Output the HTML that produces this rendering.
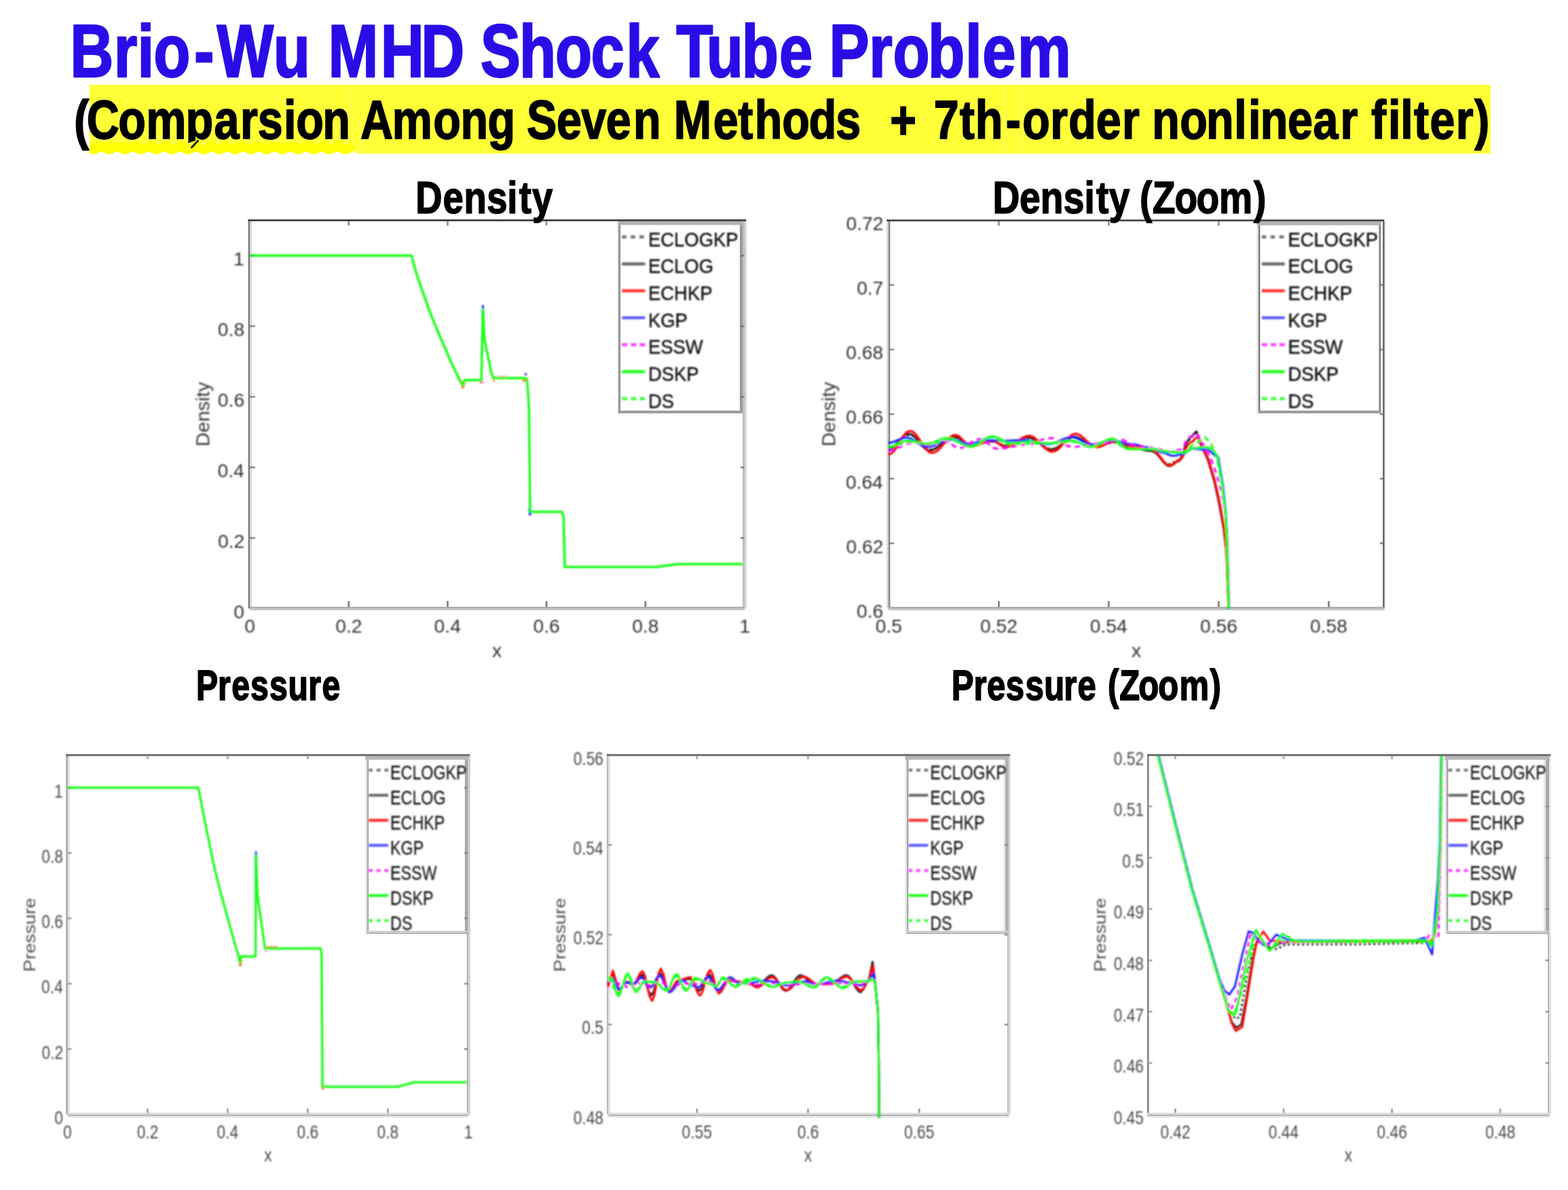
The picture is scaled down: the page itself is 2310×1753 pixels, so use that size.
<!DOCTYPE html>
<html lang="en"><head><meta charset="utf-8"><title>Brio-Wu MHD Shock Tube Problem</title>
<style>html,body{margin:0;padding:0;background:#fff;}body{width:2310px;height:1753px;overflow:hidden;}svg{display:block;}text{font-family:"Liberation Sans",Arial,Helvetica,sans-serif;white-space:pre;}</style>
</head><body>
<svg width="2310" height="1753" viewBox="0 0 2310 1753" role="img" aria-label="Brio-Wu MHD Shock Tube Problem: comparison among seven methods">
<defs>
<filter id="b1" x="-5%" y="-5%" width="110%" height="110%"><feGaussianBlur stdDeviation="1.0"/></filter>
<filter id="b2" x="-5%" y="-5%" width="110%" height="110%"><feGaussianBlur stdDeviation="1.1"/></filter>
<filter id="bf" x="-5%" y="-5%" width="110%" height="110%"><feGaussianBlur stdDeviation="0.45"/></filter>
<filter id="b0" x="-5%" y="-20%" width="110%" height="140%"><feGaussianBlur stdDeviation="0.6"/></filter>
</defs>
<rect width="2310" height="1753" fill="#fff"/>
<g filter="url(#b0)">
<text transform="translate(0,112.59) scale(0.8062,1)" x="128.1 208.0 251.3 280.5 354.8 396.3 499.5 562.9 599.8 695.7 769.3 844.2 878.0 949.0 1014.5 1079.8 1143.8 1210.6 1235.6 1291.0 1355.5 1423.9 1484.1 1515.2 1588.1 1631.6 1695.5 1763.9 1795.2 1859.2" y="0" font-size="109.93" font-weight="bold" fill="#2a10e6" stroke="#2a10e6" stroke-width="2.42" stroke-linejoin="round">Brio-Wu MHD Shock Tube Problem</text>
</g>
<rect x="131.8" y="124.8" width="2064.2" height="101.5" fill="#ffff38"/>
<rect x="131" y="221" width="392.5" height="8" fill="#fff"/>
<rect x="514.5" y="125" width="1" height="101" fill="#ffff70"/>
<rect x="532.5" y="125" width="1" height="101" fill="#ffff70"/>
<rect x="1479.1" y="125" width="1" height="101" fill="#ffff70"/>
<rect x="1507.2" y="125" width="1" height="101" fill="#ffff70"/>
<g filter="url(#b0)">
<text transform="translate(0,203.50) scale(0.8266,1)" x="131.8 154.5 210.8 260.3 330.8 381.8 428.2 459.4 505.8 527.9 575.0 620.1 642.4 699.0 772.3 820.8 869.3 914.7 938.8 992.1 1035.8 1080.0 1128.8 1174.6 1200.9 1271.3 1315.2 1345.1 1394.0 1441.7 1489.6 1532.8 1537.7 1586.2 1636.3 1664.4 1710.3 1738.2 1792.6 1822.2 1871.9 1904.6 1953.4 1999.7 2031.8 2053.2 2102.8 2149.8 2199.6 2224.7 2246.2 2295.1 2340.4 2388.6 2421.5 2443.8 2474.1 2496.2 2519.9 2548.3 2594.6 2627.8" y="0" font-size="80.30" font-weight="bold" fill="#000" stroke="#000" stroke-width="1.80" stroke-linejoin="round">(Comparsion Among Seven Methods  + 7th-order nonlinear filter)</text>
</g>
<clipPath id="sq"><rect x="131.8" y="200" width="391.2" height="32"/></clipPath>
<g clip-path="url(#sq)"><polyline points="126.0,215.0 137.6,219.6 149.2,215.0 160.8,219.6 172.4,215.0 184.0,219.6 195.6,215.0 207.2,219.6 218.8,215.0 230.4,219.6 242.0,215.0 253.6,219.6 265.2,215.0 276.8,219.6 288.4,215.0 300.0,219.6 311.6,215.0 323.2,219.6 334.8,215.0 346.4,219.6 358.0,215.0 369.6,219.6 381.2,215.0 392.8,219.6 404.4,215.0 416.0,219.6 427.6,215.0 439.2,219.6 450.8,215.0 462.4,219.6 474.0,215.0 485.6,219.6 497.2,215.0 508.8,219.6 520.4,215.0" fill="none" stroke="#ffff06" stroke-width="15.5" stroke-linejoin="round"/>
<polyline points="126.0,207.2 137.6,212.2 149.2,207.2 160.8,212.2 172.4,207.2 184.0,212.2 195.6,207.2 207.2,212.2 218.8,207.2 230.4,212.2 242.0,207.2 253.6,212.2 265.2,207.2 276.8,212.2 288.4,207.2 300.0,212.2 311.6,207.2 323.2,212.2 334.8,207.2 346.4,212.2 358.0,207.2 369.6,212.2 381.2,207.2 392.8,212.2 404.4,207.2 416.0,212.2 427.6,207.2 439.2,212.2 450.8,207.2 462.4,212.2 474.0,207.2 485.6,212.2 497.2,207.2 508.8,212.2 520.4,207.2" fill="none" stroke="#ffffb0" stroke-width="1.3" stroke-dasharray="9 14" opacity="0.9"/></g>
<path d="M282.5 217 L291.5 207.5" stroke="#2a2a2a" stroke-width="3.2" fill="none" stroke-linecap="round"/>
<g filter="url(#bf)">
<rect x="512.4" y="885.4" width="2.7" height="10.5" fill="#6a6a6a" opacity="0.85"/>
<rect x="512.4" y="325.9" width="2.7" height="6.4" fill="#6a6a6a" opacity="0.75"/>
<rect x="658.1" y="885.4" width="2.7" height="10.5" fill="#6a6a6a" opacity="0.85"/>
<rect x="658.1" y="325.9" width="2.7" height="6.4" fill="#6a6a6a" opacity="0.75"/>
<rect x="803.7" y="885.4" width="2.7" height="10.5" fill="#6a6a6a" opacity="0.85"/>
<rect x="803.7" y="325.9" width="2.7" height="6.4" fill="#6a6a6a" opacity="0.75"/>
<rect x="949.5" y="885.4" width="2.7" height="10.5" fill="#6a6a6a" opacity="0.85"/>
<rect x="949.5" y="325.9" width="2.7" height="6.4" fill="#6a6a6a" opacity="0.75"/>
<rect x="365.6" y="323.2" width="2.4" height="573.2" fill="#7a7a7a"/>
<rect x="368.0" y="323.2" width="3.0" height="573.2" fill="#d8d8d8"/>
<rect x="368.0" y="791.2" width="8.0" height="2.7" fill="#6a6a6a" opacity="0.7"/>
<rect x="368.0" y="687.2" width="8.0" height="2.7" fill="#6a6a6a" opacity="0.7"/>
<rect x="368.0" y="583.2" width="8.0" height="2.7" fill="#6a6a6a" opacity="0.7"/>
<rect x="368.0" y="479.2" width="8.0" height="2.7" fill="#6a6a6a" opacity="0.7"/>
<rect x="368.0" y="375.2" width="8.0" height="2.7" fill="#6a6a6a" opacity="0.7"/>
<rect x="1094.0" y="325.9" width="3.0" height="570.5" fill="#c0c0c0"/>
<rect x="1097.0" y="325.9" width="2.8" height="570.5" fill="#d4d4d4"/>
<rect x="368.0" y="893.9" width="729.0" height="2.5" fill="#aaaaaa"/>
<rect x="368.0" y="896.4" width="729.0" height="2.5" fill="#c0c0c0"/>
</g>
<clipPath id="clip1"><rect x="365.6" y="324.9" width="728.4" height="574.0"/></clipPath>
<g filter="url(#b1)"><g clip-path="url(#clip1)" fill="none" stroke-linejoin="round" stroke-linecap="butt">
<polyline points="711.1,480.6 711.4,450.9 712.0,465.0" stroke="#1c1cff" stroke-width="3.2"/>
<polyline points="680.2,560.6 681.8,570.5 683.8,563.8" stroke="#ff6030" stroke-width="3.6"/>
<polyline points="707.1,563.0 709.7,563.0" stroke="#ff3030" stroke-width="3.4"/>
<polyline points="710.4,563.0 712.4,563.0" stroke="#ff50ff" stroke-width="3.0"/>
<polyline points="726.1,560.4 729.0,560.4" stroke="#ff8040" stroke-width="3.0"/>
<polyline points="732.2,554.7 746.8,554.7" stroke="#ff9090" stroke-width="2.0"/>
<polyline points="770.1,560.4 775.2,560.4" stroke="#ff3030" stroke-width="3.0"/>
<polyline points="773.8,552.8 775.2,549.7" stroke="#8030d0" stroke-width="3.6"/>
<polyline points="780.1,748.3 780.9,759.2" stroke="#1c1cff" stroke-width="3.6"/>
<polyline points="825.5,752.0 828.4,754.0" stroke="#ff40ff" stroke-width="2.6"/>
<polyline points="368.0,376.6 606.4,376.6 612.3,399.2 619.8,421.6 634.7,463.3 649.6,499.0 664.5,533.2 677.9,561.6 681.6,567.4 684.5,560.1 709.1,560.1 711.4,455.6 713.6,499.0 718.1,521.4 724.0,549.7 727.0,557.1 774.7,557.1 776.2,558.6 777.6,573.4 779.1,600.0 781.1,754.0 828.0,754.0 830.2,761.3 832.1,835.2 966.5,835.2 998.9,831.0 1096.5,831.0" stroke="#12ff12" stroke-width="3.5"/>
</g></g>
<g filter="url(#bf)">
<rect x="910.6" y="325.9" width="189.7" height="283.0" fill="#fff"/>
<rect x="910.6" y="327.5" width="3.7" height="281.4" fill="#9c9c9c"/>
<rect x="1089.9" y="325.9" width="4.1" height="283.0" fill="#9a9a9a"/>
<rect x="1094.0" y="325.9" width="3.0" height="283.0" fill="#c0c0c0"/>
<rect x="1097.0" y="325.9" width="2.8" height="283.0" fill="#d4d4d4"/>
<rect x="910.6" y="604.8" width="183.4" height="4.1" fill="#9c9c9c"/>
<rect x="910.6" y="326.0" width="183.4" height="5.4" fill="#b2b2b2"/>
<rect x="365.6" y="323.2" width="733.7" height="2.7" fill="#3a3a3a"/>
<rect x="1091.0" y="791.2" width="5.5" height="2.7" fill="#707070" opacity="0.8"/>
<rect x="1091.0" y="687.2" width="5.5" height="2.7" fill="#707070" opacity="0.8"/>
<rect x="1091.0" y="583.2" width="5.5" height="2.7" fill="#707070" opacity="0.8"/>
<rect x="1091.0" y="479.2" width="5.5" height="2.7" fill="#707070" opacity="0.8"/>
<rect x="1091.0" y="375.2" width="5.5" height="2.7" fill="#707070" opacity="0.8"/>
</g>
<g filter="url(#b1)">
<line x1="916.3" y1="349.0" x2="950.3" y2="349.0" stroke="#6e6e6e" stroke-width="4.4" stroke-dasharray="6.5 6.4"/>
<text transform="translate(955.04,362.60) scale(0.9420,1)" font-size="29.09" fill="#111" stroke="#111" stroke-width="0.45">ECLOGKP</text>
<line x1="916.3" y1="388.7" x2="950.3" y2="388.7" stroke="#686868" stroke-width="4.4"/>
<text transform="translate(955.04,402.30) scale(0.9420,1)" font-size="29.09" fill="#111" stroke="#111" stroke-width="0.45">ECLOG</text>
<line x1="916.3" y1="428.4" x2="950.3" y2="428.4" stroke="#ff2a2a" stroke-width="4.4"/>
<text transform="translate(955.04,442.00) scale(0.9420,1)" font-size="29.09" fill="#111" stroke="#111" stroke-width="0.45">ECHKP</text>
<line x1="916.3" y1="468.1" x2="950.3" y2="468.1" stroke="#5a5aff" stroke-width="4.4"/>
<text transform="translate(955.04,481.70) scale(0.9420,1)" font-size="29.09" fill="#111" stroke="#111" stroke-width="0.45">KGP</text>
<line x1="916.3" y1="507.8" x2="950.3" y2="507.8" stroke="#ff40ff" stroke-width="4.4" stroke-dasharray="8 5"/>
<text transform="translate(955.04,521.40) scale(0.9420,1)" font-size="29.09" fill="#111" stroke="#111" stroke-width="0.45">ESSW</text>
<line x1="916.3" y1="547.5" x2="950.3" y2="547.5" stroke="#20ff20" stroke-width="4.4"/>
<text transform="translate(955.04,561.10) scale(0.9420,1)" font-size="29.09" fill="#111" stroke="#111" stroke-width="0.45">DSKP</text>
<line x1="916.3" y1="587.2" x2="950.3" y2="587.2" stroke="#40ff40" stroke-width="4.4" stroke-dasharray="8 5"/>
<text transform="translate(955.04,600.80) scale(0.9420,1)" font-size="29.09" fill="#111" stroke="#111" stroke-width="0.45">DS</text>
<text transform="translate(360.13,932.30) scale(0.9900,1)" font-size="28.51" fill="#333">0</text>
<text transform="translate(494.23,932.30) scale(0.9900,1)" font-size="28.51" fill="#333">0.2</text>
<text transform="translate(639.61,932.30) scale(0.9900,1)" font-size="28.51" fill="#333">0.4</text>
<text transform="translate(785.52,932.30) scale(0.9900,1)" font-size="28.51" fill="#333">0.6</text>
<text transform="translate(931.22,932.30) scale(0.9900,1)" font-size="28.51" fill="#333">0.8</text>
<text transform="translate(1089.58,932.30) scale(0.9900,1)" font-size="28.51" fill="#333">1</text>
<text transform="translate(344.29,910.80) scale(0.9900,1)" font-size="28.51" fill="#333">0</text>
<text transform="translate(321.08,806.82) scale(0.9900,1)" font-size="28.51" fill="#333">0.2</text>
<text transform="translate(320.44,702.84) scale(0.9900,1)" font-size="28.51" fill="#333">0.4</text>
<text transform="translate(320.87,598.85) scale(0.9900,1)" font-size="28.51" fill="#333">0.6</text>
<text transform="translate(320.87,494.87) scale(0.9900,1)" font-size="28.51" fill="#333">0.8</text>
<text transform="translate(344.08,390.89) scale(0.9900,1)" font-size="28.51" fill="#333">1</text>
<text transform="translate(724.94,968.00) scale(0.9900,1)" font-size="28.51" fill="#333">x</text>
<text transform="translate(308.30,657.68) rotate(-90) scale(1.0000,1.0000)" font-size="28.51" fill="#333">Density</text>
</g>
<g filter="url(#bf)">
<rect x="1470.1" y="885.5" width="2.7" height="10.5" fill="#6a6a6a" opacity="0.85"/>
<rect x="1470.1" y="326.1" width="2.7" height="6.4" fill="#6a6a6a" opacity="0.75"/>
<rect x="1632.1" y="885.5" width="2.7" height="10.5" fill="#6a6a6a" opacity="0.85"/>
<rect x="1632.1" y="326.1" width="2.7" height="6.4" fill="#6a6a6a" opacity="0.75"/>
<rect x="1794.1" y="885.5" width="2.7" height="10.5" fill="#6a6a6a" opacity="0.85"/>
<rect x="1794.1" y="326.1" width="2.7" height="6.4" fill="#6a6a6a" opacity="0.75"/>
<rect x="1956.1" y="885.5" width="2.7" height="10.5" fill="#6a6a6a" opacity="0.85"/>
<rect x="1956.1" y="326.1" width="2.7" height="6.4" fill="#6a6a6a" opacity="0.75"/>
<rect x="1306.0" y="323.4" width="2.7" height="572.7" fill="#dddddd"/>
<rect x="1308.7" y="323.4" width="2.7" height="572.7" fill="#8a8a8a"/>
<rect x="1309.4" y="799.0" width="8.0" height="2.7" fill="#6a6a6a" opacity="0.7"/>
<rect x="1309.4" y="703.8" width="8.0" height="2.7" fill="#6a6a6a" opacity="0.7"/>
<rect x="1309.4" y="608.7" width="8.0" height="2.7" fill="#6a6a6a" opacity="0.7"/>
<rect x="1309.4" y="513.5" width="8.0" height="2.7" fill="#6a6a6a" opacity="0.7"/>
<rect x="1309.4" y="418.4" width="8.0" height="2.7" fill="#6a6a6a" opacity="0.7"/>
<rect x="2037.1" y="326.1" width="2.7" height="570.0" fill="#666666"/>
<rect x="1308.7" y="894.0" width="731.1" height="2.1" fill="#aaaaaa"/>
<rect x="1308.7" y="896.1" width="731.1" height="2.7" fill="#bebebe"/>
</g>
<clipPath id="clip2"><rect x="1306" y="325.1" width="731.0999999999999" height="573.6999999999999"/></clipPath>
<g filter="url(#b1)"><g clip-path="url(#clip2)" fill="none" stroke-linejoin="round" stroke-linecap="butt">
<polyline points="1309.0,662.4 1313.4,661.3 1317.8,658.3 1322.2,654.0 1326.6,649.1 1330.9,644.8 1335.3,641.8 1339.7,640.7 1344.1,641.8 1348.5,644.8 1352.9,649.1 1357.3,654.0 1361.7,658.3 1366.1,661.3 1370.5,662.4 1374.5,661.8 1378.5,660.3 1382.5,657.9 1386.5,654.9 1390.6,651.8 1394.6,648.8 1398.6,646.4 1402.6,644.8 1406.6,644.3 1410.9,645.0 1415.1,647.0 1419.3,649.7 1423.5,652.4 1427.7,654.4 1432.0,655.2 1436.3,654.9 1440.7,654.3 1445.1,653.4 1449.5,652.4 1453.9,651.5 1458.3,650.9 1462.7,650.6 1467.7,651.5 1472.6,653.5 1477.6,655.6 1482.6,656.4 1486.7,656.0 1490.7,654.8 1494.8,653.0 1498.9,650.8 1502.9,648.7 1507.0,646.8 1511.1,645.6 1515.1,645.2 1519.4,645.8 1523.7,647.6 1528.0,650.2 1532.3,653.3 1536.6,656.5 1540.9,659.1 1545.2,660.9 1549.5,661.5 1553.8,660.8 1558.1,659.0 1562.4,656.2 1566.7,652.9 1571.0,649.6 1575.3,646.8 1579.6,645.0 1583.9,644.3 1588.2,644.9 1592.6,646.7 1597.0,649.2 1601.4,652.0 1605.8,654.6 1610.2,656.3 1614.6,657.0 1618.7,656.7 1622.9,655.9 1627.0,654.9 1631.1,653.6 1635.3,652.6 1639.4,651.8 1643.5,651.5 1648.0,652.4 1652.6,654.5 1657.1,656.6 1661.6,657.5 1666.0,657.7 1670.3,658.4 1674.7,659.3 1679.0,660.5 1683.4,661.6 1687.8,662.6 1692.1,663.2 1696.5,663.4 1700.6,664.8 1704.8,668.6 1709.0,673.7 1713.2,678.8 1717.3,682.6 1721.5,684.0 1726.3,682.6 1731.0,680.0 1735.8,678.6 1739.8,674.2 1743.8,663.4 1747.8,652.7 1751.9,648.2 1756.8,642.9 1761.7,637.5 1765.7,645.6 1769.7,653.6 1774.6,665.2 1779.6,676.8 1784.5,692.9 1789.4,709.0 1796.5,741.1 1803.7,780.5 1807.6,816.2 1810.5,896.6" stroke="#1a1a1a" stroke-width="3.1" stroke-dasharray="3 4"/>
<polyline points="1309.0,661.5 1313.2,660.4 1317.5,657.2 1321.8,652.7 1326.0,647.7 1330.3,643.1 1334.6,640.0 1338.8,638.9 1343.2,640.1 1347.6,643.5 1352.0,648.5 1356.4,654.0 1360.8,659.0 1365.2,662.4 1369.6,663.7 1373.6,663.0 1377.6,661.3 1381.6,658.6 1385.6,655.3 1389.7,651.8 1393.7,648.5 1397.7,645.8 1401.7,644.0 1405.7,643.4 1410.0,644.2 1414.2,646.6 1418.4,649.7 1422.6,652.9 1426.8,655.2 1431.0,656.1 1435.4,655.7 1439.8,654.9 1444.2,653.6 1448.6,652.2 1453.0,650.9 1457.4,650.0 1461.8,649.7 1466.8,650.8 1471.7,653.3 1476.7,655.9 1481.7,657.0 1485.8,656.5 1489.8,655.1 1493.9,653.1 1498.0,650.6 1502.0,648.2 1506.1,646.2 1510.2,644.8 1514.2,644.3 1518.5,645.0 1522.8,647.0 1527.1,649.9 1531.4,653.3 1535.7,656.8 1540.0,659.7 1544.3,661.7 1548.6,662.4 1552.9,661.7 1557.2,659.6 1561.5,656.5 1565.8,652.9 1570.1,649.3 1574.4,646.2 1578.7,644.1 1582.9,643.4 1587.3,644.1 1591.7,646.1 1596.1,648.9 1600.5,652.0 1604.9,654.8 1609.3,656.8 1613.7,657.5 1617.8,657.2 1622.0,656.2 1626.1,654.8 1630.2,653.3 1634.4,651.9 1638.5,651.0 1642.6,650.6 1647.1,651.7 1651.7,654.2 1656.2,656.8 1660.7,657.9 1665.2,658.1 1669.6,658.8 1674.1,659.9 1678.6,661.1 1683.1,662.3 1687.5,663.4 1692.0,664.1 1696.5,664.3 1700.9,665.8 1705.4,669.9 1709.9,675.5 1714.3,681.1 1718.8,685.2 1723.3,686.7 1728.0,684.6 1732.8,680.6 1737.6,678.6 1742.3,670.6 1747.1,654.5 1751.9,646.5 1757.2,641.1 1762.6,635.7 1769.7,657.2 1774.2,666.1 1778.7,675.0 1783.6,691.1 1788.5,707.2 1795.6,739.4 1802.8,778.7 1806.9,814.4 1809.9,896.6" stroke="#1a1a1a" stroke-width="3.1"/>
<polyline points="1309.0,669.6 1313.5,667.9 1318.0,663.1 1322.5,656.1 1327.1,648.3 1331.6,641.3 1336.1,636.4 1340.6,634.7 1344.7,636.0 1348.8,639.5 1352.8,644.8 1356.9,651.0 1361.0,657.2 1365.0,662.5 1369.1,666.0 1373.2,667.3 1377.5,666.3 1381.8,663.4 1386.1,659.1 1390.4,654.0 1394.7,648.9 1399.0,644.6 1403.2,641.7 1407.5,640.7 1412.2,642.3 1416.9,646.5 1421.6,651.7 1426.3,655.9 1431.0,657.5 1435.4,657.1 1439.8,655.9 1444.2,654.1 1448.6,652.2 1453.0,650.5 1457.4,649.3 1461.8,648.8 1466.8,650.3 1471.7,653.8 1476.7,657.3 1481.7,658.8 1486.0,658.1 1490.3,656.3 1494.6,653.6 1498.9,650.4 1503.2,647.1 1507.5,644.4 1511.7,642.6 1516.0,642.0 1520.3,642.8 1524.6,645.4 1528.9,649.2 1533.2,653.7 1537.5,658.2 1541.8,662.0 1546.1,664.6 1550.4,665.5 1554.7,664.4 1559.0,661.6 1563.3,657.3 1567.6,652.2 1571.9,647.1 1576.2,642.8 1580.5,639.9 1584.8,638.9 1589.1,639.9 1593.5,642.6 1597.9,646.6 1602.3,651.0 1606.7,655.0 1611.1,657.8 1615.5,658.8 1620.0,658.2 1624.5,656.5 1629.1,654.2 1633.6,652.0 1638.1,650.3 1642.6,649.7 1647.1,650.3 1651.7,651.8 1656.2,653.8 1660.7,655.8 1665.2,657.3 1669.7,657.9 1674.2,658.1 1678.7,658.8 1683.1,659.8 1687.6,660.7 1692.0,661.4 1696.5,661.6 1700.9,663.3 1705.4,667.7 1709.9,673.7 1714.3,679.7 1718.8,684.1 1723.3,685.8 1727.3,684.5 1731.3,681.3 1735.3,678.1 1739.4,676.8 1743.5,671.0 1747.7,659.4 1751.9,653.6 1756.6,650.9 1761.4,645.6 1766.2,642.9 1771.5,659.0 1776.0,667.9 1780.5,676.8 1784.9,692.0 1789.4,707.2 1796.5,739.4 1803.7,778.7 1807.3,814.4 1809.9,896.6" stroke="#ff0000" stroke-width="3.1"/>
<polyline points="1309.0,652.4 1313.4,651.9 1317.7,650.5 1322.1,648.6 1326.5,646.7 1330.8,645.4 1335.2,644.8 1339.6,645.5 1344.0,647.4 1348.4,650.0 1352.8,653.0 1357.2,655.7 1361.6,657.6 1365.9,658.2 1370.0,657.9 1374.0,657.0 1378.0,655.5 1382.0,653.7 1386.0,651.9 1390.1,650.1 1394.1,648.6 1398.1,647.7 1402.1,647.4 1406.3,647.8 1410.6,649.0 1414.8,650.6 1419.0,652.3 1423.2,653.5 1427.4,653.9 1431.7,653.5 1435.9,652.5 1440.1,651.2 1444.3,649.8 1448.5,648.8 1452.7,648.5 1456.8,648.5 1460.9,648.6 1465.0,648.7 1469.0,648.8 1473.1,649.0 1477.2,649.1 1481.2,649.2 1485.3,649.2 1489.6,649.1 1494.0,648.9 1498.3,648.7 1502.7,648.5 1507.0,648.5 1511.0,648.6 1515.0,649.1 1519.1,649.9 1523.1,650.9 1527.1,651.9 1531.1,652.8 1535.1,653.6 1539.1,654.1 1543.2,654.2 1547.2,653.9 1551.2,653.1 1555.2,651.8 1559.2,650.1 1563.3,648.4 1567.3,646.8 1571.3,645.5 1575.3,644.6 1579.3,644.3 1583.5,644.8 1587.6,646.2 1591.7,648.3 1595.9,650.6 1600.0,652.7 1604.1,654.1 1608.3,654.6 1612.7,654.3 1617.0,653.5 1621.4,652.4 1625.8,651.1 1630.2,649.9 1634.6,649.1 1639.0,648.8 1643.5,649.2 1648.0,650.2 1652.6,651.5 1657.1,652.9 1661.6,653.9 1666.1,654.2 1670.5,654.5 1674.8,655.3 1679.1,656.4 1683.5,657.7 1687.8,658.8 1692.1,659.6 1696.5,659.9 1701.2,661.4 1706.0,664.5 1710.8,666.1 1715.2,666.9 1719.7,668.8 1724.2,670.7 1728.6,671.5 1733.4,670.8 1738.2,669.5 1742.9,668.8 1747.1,666.8 1751.3,662.8 1755.4,660.7 1760.1,660.9 1764.7,661.4 1769.4,661.9 1774.0,662.4 1778.7,662.5 1782.7,664.1 1786.7,667.9 1790.7,671.7 1794.7,673.3 1801.9,716.1 1805.5,751.9 1808.1,796.5 1810.8,896.6" stroke="#1c1cff" stroke-width="3.1"/>
<polyline points="1309.0,663.7 1313.4,663.2 1317.8,662.0 1322.2,660.2 1326.6,658.0 1331.0,655.9 1335.4,654.1 1339.8,652.9 1344.2,652.4 1348.8,652.7 1353.3,653.3 1357.8,654.2 1362.3,655.2 1366.9,655.8 1371.4,656.1 1376.3,655.1 1381.3,652.6 1386.3,650.2 1391.3,649.2 1395.6,650.2 1399.9,652.9 1404.3,656.3 1408.6,659.0 1413.0,660.0 1417.4,659.4 1421.7,657.5 1426.1,654.8 1430.5,651.9 1434.9,649.2 1439.3,647.3 1443.7,646.7 1447.9,647.6 1452.1,650.3 1456.4,653.9 1460.6,657.5 1464.8,660.2 1469.0,661.1 1473.3,661.0 1477.6,660.6 1481.8,659.9 1486.1,659.1 1490.4,658.2 1494.7,657.2 1498.9,656.3 1503.2,655.4 1507.5,654.8 1511.8,654.4 1516.0,654.2 1520.4,653.8 1524.8,652.5 1529.2,650.7 1533.6,648.7 1538.0,646.9 1542.4,645.7 1546.8,645.2 1550.8,645.7 1554.9,647.1 1559.0,649.2 1563.1,651.7 1567.1,654.2 1571.2,656.3 1575.3,657.7 1579.3,658.2 1583.3,658.1 1587.4,657.8 1591.4,657.2 1595.4,656.6 1599.4,655.9 1603.4,655.2 1607.5,654.7 1611.5,654.4 1615.5,654.2 1619.5,654.0 1623.5,653.4 1627.6,652.5 1631.6,651.4 1635.6,650.2 1639.6,649.1 1643.6,648.2 1647.6,647.6 1651.7,647.4 1656.2,648.6 1660.7,651.7 1665.2,654.8 1669.7,656.1 1674.2,656.3 1678.7,657.0 1683.1,658.0 1687.6,658.9 1692.0,659.6 1696.5,659.9 1700.6,660.1 1704.6,660.9 1708.7,661.9 1712.8,663.1 1716.9,664.2 1721.0,664.9 1725.1,665.2 1729.8,664.5 1734.6,663.2 1739.4,662.5 1743.5,658.1 1747.7,649.1 1751.9,644.7 1757.2,641.5 1762.6,638.4 1767.1,646.0 1771.5,653.6 1776.9,662.5 1782.2,671.5 1787.6,685.8 1793.0,700.1 1800.1,725.1 1805.5,760.8 1808.7,805.5 1811.2,896.6" stroke="#ff00ff" stroke-width="3.1" stroke-dasharray="8 6"/>
<polyline points="1309.0,658.8 1313.4,658.1 1317.7,656.4 1322.1,654.0 1326.5,651.6 1330.8,649.8 1335.2,649.2 1339.6,649.4 1344.0,650.1 1348.4,651.0 1352.8,652.1 1357.2,653.0 1361.6,653.7 1365.9,653.9 1370.1,653.5 1374.2,652.3 1378.3,650.5 1382.5,648.6 1386.6,646.8 1390.7,645.6 1394.9,645.2 1398.9,645.6 1402.9,646.7 1406.9,648.5 1411.0,650.6 1415.0,652.8 1419.0,655.0 1423.0,656.7 1427.0,657.8 1431.0,658.2 1435.4,657.5 1439.8,655.3 1444.2,652.3 1448.6,648.8 1453.0,645.8 1457.4,643.6 1461.8,642.9 1466.3,643.5 1470.8,645.3 1475.4,647.8 1479.9,650.3 1484.4,652.1 1488.9,652.8 1493.0,652.7 1497.2,652.4 1501.3,652.0 1505.4,651.5 1509.6,651.0 1513.7,650.7 1517.8,650.6 1522.1,650.8 1526.3,651.2 1530.5,651.7 1534.7,652.3 1538.9,652.7 1543.2,652.8 1547.2,652.7 1551.2,652.4 1555.2,651.9 1559.2,651.3 1563.3,650.7 1567.3,650.1 1571.3,649.6 1575.3,649.3 1579.3,649.2 1583.9,649.8 1588.4,651.4 1592.9,653.7 1597.4,656.0 1601.9,657.6 1606.5,658.2 1610.5,657.8 1614.6,656.5 1618.7,654.5 1622.7,652.2 1626.8,649.9 1630.9,647.9 1634.9,646.6 1639.0,646.1 1643.7,647.6 1648.4,651.5 1653.1,656.4 1657.8,660.3 1662.5,661.8 1666.8,661.8 1671.0,661.8 1675.3,661.8 1679.5,661.7 1683.7,661.7 1688.0,661.7 1692.2,661.6 1696.5,661.6 1700.6,661.9 1704.6,662.5 1708.7,663.4 1712.8,664.4 1716.9,665.3 1721.0,665.9 1725.1,666.1 1729.5,666.2 1734.0,666.6 1738.5,666.9 1742.9,667.0 1747.4,666.0 1751.9,663.4 1756.3,660.9 1760.8,659.9 1765.3,659.7 1769.7,659.4 1774.2,659.1 1778.7,659.0 1785.8,661.6 1793.0,671.5 1797.0,693.8 1801.0,716.1 1805.1,751.9 1807.8,796.5 1810.5,896.6" stroke="#12ff12" stroke-width="3.1"/>
<polyline points="1309.0,657.9 1313.4,657.6 1317.8,656.8 1322.2,655.6 1326.6,654.2 1331.0,652.9 1335.4,651.7 1339.8,650.9 1344.2,650.6 1348.8,650.9 1353.3,651.5 1357.8,652.4 1362.3,653.3 1366.9,654.0 1371.4,654.2 1375.9,653.8 1380.4,652.4 1384.9,650.6 1389.5,648.8 1394.0,647.5 1398.5,647.0 1402.6,647.5 1406.8,648.9 1410.9,650.9 1415.0,653.1 1419.2,655.1 1423.3,656.5 1427.4,657.0 1431.5,656.5 1435.6,655.1 1439.6,653.1 1443.7,650.6 1447.8,648.2 1451.8,646.2 1455.9,644.8 1460.0,644.3 1464.1,644.8 1468.2,646.2 1472.4,648.2 1476.5,650.4 1480.6,652.4 1484.8,653.8 1488.9,654.2 1493.1,654.2 1497.3,654.2 1501.4,654.1 1505.6,654.1 1509.8,654.0 1514.0,653.9 1518.1,653.7 1522.3,653.6 1526.5,653.5 1530.6,653.5 1534.8,653.4 1539.0,653.4 1543.2,653.3 1547.2,653.3 1551.2,653.0 1555.2,652.7 1559.2,652.2 1563.3,651.8 1567.3,651.3 1571.3,651.0 1575.3,650.7 1579.3,650.6 1583.5,651.0 1587.6,651.9 1591.7,653.3 1595.9,654.8 1600.0,656.2 1604.1,657.2 1608.3,657.5 1612.4,657.0 1616.5,655.6 1620.7,653.6 1624.8,651.3 1628.9,649.3 1633.1,647.9 1637.2,647.4 1641.5,648.6 1645.9,651.9 1650.2,656.0 1654.6,659.3 1658.9,660.6 1663.1,660.6 1667.2,660.7 1671.4,660.8 1675.6,661.0 1679.8,661.2 1684.0,661.4 1688.1,661.5 1692.3,661.6 1696.5,661.6 1700.6,661.8 1704.6,662.3 1708.7,663.0 1712.8,663.8 1716.9,664.5 1721.0,665.0 1725.1,665.2 1729.5,665.3 1734.0,665.7 1738.5,666.0 1742.9,666.1 1747.4,664.3 1751.9,659.9 1756.3,655.4 1760.8,653.6 1765.6,651.1 1770.3,646.2 1775.1,643.8 1779.6,648.7 1784.0,653.6 1788.0,662.5 1792.1,671.5 1796.1,692.9 1800.1,714.3 1804.6,751.9 1807.3,796.5 1810.1,896.6" stroke="#12ff12" stroke-width="3.1" stroke-dasharray="8 6"/>
</g></g>
<g filter="url(#bf)">
<rect x="1851.4" y="326.1" width="188.9" height="282.8" fill="#fff"/>
<rect x="1851.4" y="327.5" width="2.5" height="281.4" fill="#e4e4e4"/>
<rect x="1853.9" y="327.5" width="2.5" height="281.4" fill="#7a7a7a"/>
<rect x="2031.4" y="326.1" width="3.0" height="282.8" fill="#888888"/>
<rect x="2037.1" y="326.1" width="2.7" height="282.8" fill="#666666"/>
<rect x="1853.9" y="604.8" width="180.5" height="4.1" fill="#9c9c9c"/>
<rect x="1851.4" y="326.2" width="183.0" height="5.6" fill="#b4b4b4"/>
<rect x="1306.0" y="323.4" width="733.3" height="2.7" fill="#444444"/>
<rect x="2032.9" y="799.0" width="5.5" height="2.7" fill="#707070" opacity="0.8"/>
<rect x="2032.9" y="703.8" width="5.5" height="2.7" fill="#707070" opacity="0.8"/>
<rect x="2032.9" y="608.7" width="5.5" height="2.7" fill="#707070" opacity="0.8"/>
<rect x="2032.9" y="513.5" width="5.5" height="2.7" fill="#707070" opacity="0.8"/>
<rect x="2032.9" y="418.4" width="5.5" height="2.7" fill="#707070" opacity="0.8"/>
</g>
<g filter="url(#b1)">
<line x1="1858.9" y1="349.0" x2="1892.7" y2="349.0" stroke="#6e6e6e" stroke-width="4.4" stroke-dasharray="6.5 6.4"/>
<text transform="translate(1897.54,362.60) scale(0.9420,1)" font-size="29.09" fill="#111" stroke="#111" stroke-width="0.45">ECLOGKP</text>
<line x1="1858.9" y1="388.7" x2="1892.7" y2="388.7" stroke="#686868" stroke-width="4.4"/>
<text transform="translate(1897.54,402.30) scale(0.9420,1)" font-size="29.09" fill="#111" stroke="#111" stroke-width="0.45">ECLOG</text>
<line x1="1858.9" y1="428.4" x2="1892.7" y2="428.4" stroke="#ff2a2a" stroke-width="4.4"/>
<text transform="translate(1897.54,442.00) scale(0.9420,1)" font-size="29.09" fill="#111" stroke="#111" stroke-width="0.45">ECHKP</text>
<line x1="1858.9" y1="468.1" x2="1892.7" y2="468.1" stroke="#5a5aff" stroke-width="4.4"/>
<text transform="translate(1897.54,481.70) scale(0.9420,1)" font-size="29.09" fill="#111" stroke="#111" stroke-width="0.45">KGP</text>
<line x1="1858.9" y1="507.8" x2="1892.7" y2="507.8" stroke="#ff40ff" stroke-width="4.4" stroke-dasharray="8 5"/>
<text transform="translate(1897.54,521.40) scale(0.9420,1)" font-size="29.09" fill="#111" stroke="#111" stroke-width="0.45">ESSW</text>
<line x1="1858.9" y1="547.5" x2="1892.7" y2="547.5" stroke="#20ff20" stroke-width="4.4"/>
<text transform="translate(1897.54,561.10) scale(0.9420,1)" font-size="29.09" fill="#111" stroke="#111" stroke-width="0.45">DSKP</text>
<line x1="1858.9" y1="587.2" x2="1892.7" y2="587.2" stroke="#40ff40" stroke-width="4.4" stroke-dasharray="8 5"/>
<text transform="translate(1897.54,600.80) scale(0.9420,1)" font-size="29.09" fill="#111" stroke="#111" stroke-width="0.45">DS</text>
<text transform="translate(1289.78,932.30) scale(0.9900,1)" font-size="28.51" fill="#333">0.5</text>
<text transform="translate(1444.09,932.30) scale(0.9900,1)" font-size="28.51" fill="#333">0.52</text>
<text transform="translate(1605.78,932.30) scale(0.9900,1)" font-size="28.51" fill="#333">0.54</text>
<text transform="translate(1767.99,932.30) scale(0.9900,1)" font-size="28.51" fill="#333">0.56</text>
<text transform="translate(1929.99,932.30) scale(0.9900,1)" font-size="28.51" fill="#333">0.58</text>
<text transform="translate(1261.97,909.80) scale(0.9900,1)" font-size="28.51" fill="#333">0.6</text>
<text transform="translate(1246.52,814.65) scale(0.9900,1)" font-size="28.51" fill="#333">0.62</text>
<text transform="translate(1245.88,719.50) scale(0.9900,1)" font-size="28.51" fill="#333">0.64</text>
<text transform="translate(1246.30,624.35) scale(0.9900,1)" font-size="28.51" fill="#333">0.66</text>
<text transform="translate(1246.30,529.20) scale(0.9900,1)" font-size="28.51" fill="#333">0.68</text>
<text transform="translate(1262.18,434.05) scale(0.9900,1)" font-size="28.51" fill="#333">0.7</text>
<text transform="translate(1246.52,338.90) scale(0.9900,1)" font-size="28.51" fill="#333">0.72</text>
<text transform="translate(1666.94,968.00) scale(0.9900,1)" font-size="28.51" fill="#333">x</text>
<text transform="translate(1230.30,657.68) rotate(-90) scale(1.0000,1.0000)" font-size="28.51" fill="#333">Density</text>
</g>
<g filter="url(#bf)">
<rect x="216.1" y="1633.2" width="2.7" height="8.0" fill="#8c8c8c" opacity="0.85"/>
<rect x="216.1" y="1113.8" width="2.7" height="4.5" fill="#8c8c8c" opacity="0.75"/>
<rect x="334.0" y="1633.2" width="2.7" height="8.0" fill="#8c8c8c" opacity="0.85"/>
<rect x="334.0" y="1113.8" width="2.7" height="4.5" fill="#8c8c8c" opacity="0.75"/>
<rect x="452.0" y="1633.2" width="2.7" height="8.0" fill="#8c8c8c" opacity="0.85"/>
<rect x="452.0" y="1113.8" width="2.7" height="4.5" fill="#8c8c8c" opacity="0.75"/>
<rect x="570.0" y="1633.2" width="2.7" height="8.0" fill="#8c8c8c" opacity="0.85"/>
<rect x="570.0" y="1113.8" width="2.7" height="4.5" fill="#8c8c8c" opacity="0.75"/>
<rect x="97.2" y="1110.8" width="2.7" height="531.0" fill="#aaaaaa"/>
<rect x="99.9" y="1110.8" width="3.0" height="531.0" fill="#e4e4e4"/>
<rect x="99.4" y="1544.0" width="6.0" height="2.7" fill="#8c8c8c" opacity="0.7"/>
<rect x="99.4" y="1447.8" width="6.0" height="2.7" fill="#8c8c8c" opacity="0.7"/>
<rect x="99.4" y="1351.5" width="6.0" height="2.7" fill="#8c8c8c" opacity="0.7"/>
<rect x="99.4" y="1255.3" width="6.0" height="2.7" fill="#8c8c8c" opacity="0.7"/>
<rect x="99.4" y="1159.1" width="6.0" height="2.7" fill="#8c8c8c" opacity="0.7"/>
<rect x="687.6" y="1113.8" width="2.4" height="528.0" fill="#b8b8b8"/>
<rect x="690.0" y="1113.8" width="2.9" height="528.0" fill="#d4d4d4"/>
<rect x="99.9" y="1639.2" width="590.1" height="2.6" fill="#dddddd"/>
<rect x="99.9" y="1641.8" width="590.1" height="2.6" fill="#b6b6b6"/>
<rect x="99.9" y="1644.4" width="590.1" height="2.2" fill="#e8e8e8"/>
</g>
<clipPath id="clip3"><rect x="97.2" y="1112.8" width="590.4" height="533.8"/></clipPath>
<g filter="url(#b2)"><g clip-path="url(#clip3)" fill="none" stroke-linejoin="round" stroke-linecap="butt">
<polyline points="376.9,1304.8 377.1,1255.2 377.5,1266.3" stroke="#5050ff" stroke-width="3.2"/>
<polyline points="352.8,1413.5 354.0,1422.2 355.5,1413.5" stroke="#ff5030" stroke-width="3.2"/>
<polyline points="390.9,1395.0 409.1,1395.0" stroke="#ff6060" stroke-width="2.2"/>
<polyline points="390.0,1400.0 392.3,1400.0" stroke="#ff6060" stroke-width="2.6"/>
<polyline points="474.6,1598.3 476.1,1605.0" stroke="#ff3030" stroke-width="3.2"/>
<polyline points="99.4,1160.4 292.3,1160.4 298.6,1193.6 305.7,1229.3 314.6,1272.1 323.6,1309.6 332.5,1341.8 341.4,1373.9 352.1,1411.4 353.9,1418.6 355.2,1408.8 376.5,1408.8 377.1,1259.8 379.3,1318.6 384.3,1354.3 390.5,1397.2 472.5,1397.2 473.8,1405.8 475.2,1600.9 585.3,1600.9 610.0,1594.3 689.4,1594.3" stroke="#12ff12" stroke-width="3.3"/>
</g></g>
<g filter="url(#bf)">
<rect x="538.3" y="1113.8" width="155.1" height="262.0" fill="#fff"/>
<rect x="538.3" y="1114.0" width="2.4" height="261.8" fill="#e6e6e6"/>
<rect x="540.7" y="1114.0" width="2.5" height="261.8" fill="#aaaaaa"/>
<rect x="684.8" y="1113.8" width="4.9" height="262.0" fill="#a8a8a8"/>
<rect x="689.7" y="1113.8" width="3.2" height="262.0" fill="#d0d0d0"/>
<rect x="540.7" y="1371.2" width="149.0" height="2.3" fill="#d0d0d0"/>
<rect x="540.7" y="1373.5" width="149.0" height="2.3" fill="#b4b4b4"/>
<rect x="538.3" y="1113.8" width="151.4" height="5.4" fill="#b6b6b6"/>
<rect x="97.2" y="1110.8" width="595.2" height="3.0" fill="#6e6e6e"/>
<rect x="683.9" y="1544.0" width="5.5" height="2.7" fill="#8a8a8a" opacity="0.8"/>
<rect x="683.9" y="1447.8" width="5.5" height="2.7" fill="#8a8a8a" opacity="0.8"/>
<rect x="683.9" y="1351.5" width="5.5" height="2.7" fill="#8a8a8a" opacity="0.8"/>
<rect x="683.9" y="1255.3" width="5.5" height="2.7" fill="#8a8a8a" opacity="0.8"/>
<rect x="683.9" y="1159.1" width="5.5" height="2.7" fill="#8a8a8a" opacity="0.8"/>
</g>
<g filter="url(#b2)">
<line x1="543.2" y1="1134.5" x2="572.1" y2="1134.5" stroke="#6e6e6e" stroke-width="4.2" stroke-dasharray="5.8 5.8"/>
<text transform="translate(575.08,1147.80) scale(0.8000,1)" font-size="29.09" fill="#1c1c1c" stroke="#1c1c1c" stroke-width="0.35">ECLOGKP</text>
<line x1="543.2" y1="1171.5" x2="572.1" y2="1171.5" stroke="#686868" stroke-width="4.2"/>
<text transform="translate(575.08,1184.75) scale(0.8000,1)" font-size="29.09" fill="#1c1c1c" stroke="#1c1c1c" stroke-width="0.35">ECLOG</text>
<line x1="543.2" y1="1208.4" x2="572.1" y2="1208.4" stroke="#ff2a2a" stroke-width="4.2"/>
<text transform="translate(575.08,1221.70) scale(0.8000,1)" font-size="29.09" fill="#1c1c1c" stroke="#1c1c1c" stroke-width="0.35">ECHKP</text>
<line x1="543.2" y1="1245.3" x2="572.1" y2="1245.3" stroke="#5a5aff" stroke-width="4.2"/>
<text transform="translate(575.08,1258.65) scale(0.8000,1)" font-size="29.09" fill="#1c1c1c" stroke="#1c1c1c" stroke-width="0.35">KGP</text>
<line x1="543.2" y1="1282.3" x2="572.1" y2="1282.3" stroke="#ff40ff" stroke-width="4.2" stroke-dasharray="5.8 5.8"/>
<text transform="translate(575.08,1295.60) scale(0.8000,1)" font-size="29.09" fill="#1c1c1c" stroke="#1c1c1c" stroke-width="0.35">ESSW</text>
<line x1="543.2" y1="1319.2" x2="572.1" y2="1319.2" stroke="#20ff20" stroke-width="4.2"/>
<text transform="translate(575.08,1332.55) scale(0.8000,1)" font-size="29.09" fill="#1c1c1c" stroke="#1c1c1c" stroke-width="0.35">DSKP</text>
<line x1="543.2" y1="1356.2" x2="572.1" y2="1356.2" stroke="#40ff40" stroke-width="4.2" stroke-dasharray="5.8 5.8"/>
<text transform="translate(575.08,1369.50) scale(0.8000,1)" font-size="29.09" fill="#1c1c1c" stroke="#1c1c1c" stroke-width="0.35">DS</text>
<text transform="translate(93.06,1677.00) scale(0.8150,1)" font-size="27.93" fill="#484848">0</text>
<text transform="translate(201.70,1677.00) scale(0.8150,1)" font-size="27.93" fill="#484848">0.2</text>
<text transform="translate(319.44,1677.00) scale(0.8150,1)" font-size="27.93" fill="#484848">0.4</text>
<text transform="translate(437.61,1677.00) scale(0.8150,1)" font-size="27.93" fill="#484848">0.6</text>
<text transform="translate(555.61,1677.00) scale(0.8150,1)" font-size="27.93" fill="#484848">0.8</text>
<text transform="translate(683.77,1677.00) scale(0.8150,1)" font-size="27.93" fill="#484848">1</text>
<text transform="translate(80.22,1655.80) scale(0.8150,1)" font-size="27.93" fill="#484848">0</text>
<text transform="translate(61.50,1559.56) scale(0.8150,1)" font-size="27.93" fill="#484848">0.2</text>
<text transform="translate(60.99,1463.33) scale(0.8150,1)" font-size="27.93" fill="#484848">0.4</text>
<text transform="translate(61.33,1367.09) scale(0.8150,1)" font-size="27.93" fill="#484848">0.6</text>
<text transform="translate(61.33,1270.85) scale(0.8150,1)" font-size="27.93" fill="#484848">0.8</text>
<text transform="translate(80.05,1174.62) scale(0.8150,1)" font-size="27.93" fill="#484848">1</text>
<text transform="translate(389.31,1711.00) scale(0.8150,1)" font-size="27.93" fill="#484848">x</text>
<text transform="translate(52.30,1431.60) rotate(-90) scale(0.9550,0.8200)" font-size="28.51" fill="#484848">Pressure</text>
</g>
<g filter="url(#bf)">
<rect x="1025.4" y="1633.2" width="2.7" height="8.0" fill="#8c8c8c" opacity="0.85"/>
<rect x="1025.4" y="1113.8" width="2.7" height="4.5" fill="#8c8c8c" opacity="0.75"/>
<rect x="1189.1" y="1633.2" width="2.7" height="8.0" fill="#8c8c8c" opacity="0.85"/>
<rect x="1189.1" y="1113.8" width="2.7" height="4.5" fill="#8c8c8c" opacity="0.75"/>
<rect x="1352.9" y="1633.2" width="2.7" height="8.0" fill="#8c8c8c" opacity="0.85"/>
<rect x="1352.9" y="1113.8" width="2.7" height="4.5" fill="#8c8c8c" opacity="0.75"/>
<rect x="893.8" y="1110.8" width="2.4" height="531.0" fill="#bbbbbb"/>
<rect x="896.2" y="1110.8" width="2.6" height="531.0" fill="#e0e0e0"/>
<rect x="895.7" y="1507.9" width="6.0" height="2.7" fill="#8c8c8c" opacity="0.7"/>
<rect x="895.7" y="1375.6" width="6.0" height="2.7" fill="#8c8c8c" opacity="0.7"/>
<rect x="895.7" y="1243.3" width="6.0" height="2.7" fill="#8c8c8c" opacity="0.7"/>
<rect x="1483.8" y="1113.8" width="2.7" height="528.0" fill="#c0c0c0"/>
<rect x="1486.5" y="1113.8" width="2.3" height="528.0" fill="#dcdcdc"/>
<rect x="896.2" y="1639.2" width="590.3" height="2.6" fill="#dddddd"/>
<rect x="896.2" y="1641.8" width="590.3" height="2.6" fill="#b6b6b6"/>
<rect x="896.2" y="1644.4" width="590.3" height="2.2" fill="#e8e8e8"/>
</g>
<clipPath id="clip4"><rect x="893.8" y="1112.8" width="590.0" height="533.8"/></clipPath>
<g filter="url(#b2)"><g clip-path="url(#clip4)" fill="none" stroke-linejoin="round" stroke-linecap="butt">
<polyline points="895.9,1448.7 899.3,1441.7 902.7,1434.8 907.2,1446.2 911.7,1457.6 915.5,1455.0 919.4,1449.8 923.3,1447.2 926.6,1447.9 929.9,1449.4 933.2,1450.2 936.4,1448.2 939.5,1443.5 942.7,1438.7 945.9,1436.7 949.3,1441.0 952.8,1451.2 956.3,1461.4 959.8,1465.6 963.0,1461.1 966.3,1450.2 969.5,1439.3 972.7,1434.8 975.8,1438.4 978.9,1447.2 982.0,1456.0 985.1,1459.6 988.7,1457.5 992.3,1452.4 995.8,1447.3 999.4,1445.2 1002.8,1444.9 1006.2,1444.2 1009.6,1443.2 1013.1,1442.5 1016.5,1442.2 1020.0,1444.6 1023.4,1450.4 1026.9,1456.2 1030.4,1458.6 1034.1,1455.4 1037.9,1447.7 1041.6,1439.9 1045.3,1436.7 1048.6,1439.9 1051.8,1447.7 1055.0,1455.4 1058.2,1458.6 1061.4,1457.3 1064.5,1454.0 1067.7,1449.8 1070.8,1446.5 1074.0,1445.2 1077.7,1445.4 1081.4,1446.0 1085.1,1446.6 1088.9,1446.9 1092.1,1447.1 1095.3,1447.6 1098.5,1448.2 1101.7,1448.7 1104.9,1448.9 1108.4,1449.9 1111.9,1452.1 1115.4,1453.2 1118.5,1452.4 1121.6,1450.3 1124.8,1447.2 1127.9,1443.7 1131.0,1440.6 1134.1,1438.5 1137.3,1437.7 1140.7,1439.1 1144.2,1443.0 1147.7,1448.2 1151.2,1453.4 1154.7,1457.2 1158.2,1458.6 1161.3,1457.6 1164.4,1454.7 1167.5,1450.5 1170.7,1445.9 1173.8,1441.7 1176.9,1438.8 1180.0,1437.7 1183.3,1438.5 1186.5,1440.7 1189.7,1443.6 1193.0,1446.5 1196.2,1448.7 1199.4,1449.5 1202.5,1449.5 1205.6,1449.4 1208.7,1449.3 1211.9,1449.2 1215.0,1449.1 1218.1,1449.0 1221.2,1448.9 1224.3,1448.9 1227.6,1448.3 1231.0,1446.8 1234.3,1444.5 1237.6,1442.1 1241.0,1439.8 1244.3,1438.3 1247.7,1437.7 1251.1,1439.3 1254.5,1443.5 1258.0,1449.2 1261.4,1454.9 1264.8,1459.1 1268.2,1460.6 1272.2,1456.5 1276.2,1448.3 1280.2,1444.2 1285.6,1418.8 1288.9,1445.7 1293.4,1490.0 1294.6,1560.0 1295.2,1660.0" stroke="#1a1a1a" stroke-width="3.0" stroke-dasharray="3 4"/>
<polyline points="895.9,1449.7 899.2,1441.7 902.4,1433.8 906.9,1446.2 911.4,1458.6 915.2,1455.6 919.0,1449.7 922.8,1446.7 926.1,1447.7 929.4,1449.7 932.7,1450.7 936.0,1448.5 939.2,1443.2 942.4,1437.9 945.7,1435.7 949.1,1440.3 952.6,1451.2 956.1,1462.1 959.6,1466.6 962.8,1461.8 966.1,1450.2 969.3,1438.6 972.5,1433.8 975.6,1437.7 978.7,1447.2 981.8,1456.7 985.0,1460.6 988.6,1458.3 992.2,1452.7 995.8,1447.0 999.4,1444.7 1002.8,1444.4 1006.1,1443.7 1009.5,1442.7 1012.9,1442.0 1016.3,1441.7 1019.8,1444.3 1023.2,1450.7 1026.7,1457.0 1030.2,1459.6 1033.9,1456.1 1037.7,1447.7 1041.4,1439.2 1045.1,1435.7 1048.4,1439.2 1051.6,1447.7 1054.8,1456.1 1058.0,1459.6 1061.2,1458.2 1064.4,1454.5 1067.6,1449.9 1070.8,1446.1 1074.0,1444.7 1077.7,1445.0 1081.4,1445.7 1085.1,1446.4 1088.9,1446.7 1092.1,1446.9 1095.3,1447.4 1098.5,1448.0 1101.7,1448.5 1104.9,1448.7 1108.3,1449.9 1111.6,1452.4 1114.9,1453.6 1118.0,1452.8 1121.1,1450.5 1124.3,1447.1 1127.4,1443.3 1130.5,1439.9 1133.6,1437.6 1136.8,1436.7 1140.3,1438.3 1143.7,1442.5 1147.2,1448.2 1150.7,1453.9 1154.2,1458.1 1157.7,1459.6 1160.8,1458.5 1163.9,1455.3 1167.0,1450.7 1170.2,1445.6 1173.3,1441.0 1176.4,1437.9 1179.5,1436.7 1182.9,1437.6 1186.2,1440.0 1189.5,1443.2 1192.8,1446.4 1196.1,1448.8 1199.4,1449.7 1202.5,1449.6 1205.6,1449.5 1208.7,1449.4 1211.9,1449.2 1215.0,1449.0 1218.1,1448.8 1221.2,1448.7 1224.3,1448.7 1227.6,1448.1 1230.8,1446.4 1234.1,1444.0 1237.4,1441.4 1240.6,1439.0 1243.9,1437.3 1247.2,1436.7 1250.6,1438.4 1254.1,1443.0 1257.6,1449.2 1261.1,1455.4 1264.6,1459.9 1268.0,1461.6 1272.0,1457.1 1276.0,1448.2 1280.0,1443.7 1285.5,1416.9 1288.9,1445.7 1293.4,1490.0 1294.6,1560.0 1295.2,1660.0" stroke="#1a1a1a" stroke-width="3.0"/>
<polyline points="895.9,1453.6 899.4,1441.7 902.9,1429.8 907.4,1444.7 911.9,1459.6 915.5,1456.1 919.1,1449.2 922.8,1445.7 926.1,1446.7 929.4,1448.7 932.7,1449.7 936.2,1446.9 939.7,1440.2 943.2,1433.5 946.7,1430.8 950.1,1437.2 953.6,1452.7 957.1,1468.1 960.6,1474.5 963.8,1467.5 967.0,1450.7 970.3,1433.8 973.5,1426.8 977.5,1435.5 981.5,1452.9 985.4,1461.6 988.9,1459.0 992.4,1452.7 995.9,1446.3 999.4,1443.7 1003.0,1443.3 1006.5,1442.3 1010.1,1441.1 1013.7,1440.1 1017.3,1439.7 1020.8,1443.7 1024.2,1453.2 1027.7,1462.6 1031.2,1466.6 1034.9,1461.0 1038.7,1447.7 1042.4,1434.3 1046.1,1428.8 1049.3,1433.9 1052.6,1446.2 1055.8,1458.5 1059.0,1463.6 1062.8,1460.7 1066.5,1453.6 1070.2,1446.6 1074.0,1443.7 1077.7,1444.0 1081.4,1444.7 1085.1,1445.4 1088.9,1445.7 1092.1,1446.1 1095.3,1447.1 1098.5,1448.3 1101.7,1449.3 1104.9,1449.7 1108.3,1450.9 1111.6,1453.4 1114.9,1454.6 1118.2,1453.9 1121.4,1451.8 1124.7,1448.8 1128.0,1445.5 1131.2,1442.5 1134.5,1440.5 1137.8,1439.7 1141.2,1441.0 1144.7,1444.5 1148.2,1449.2 1151.7,1453.9 1155.2,1457.4 1158.6,1458.6 1161.9,1457.9 1165.1,1455.7 1168.3,1452.5 1171.6,1448.7 1174.8,1444.9 1178.0,1441.6 1181.3,1439.5 1184.5,1438.7 1187.8,1439.5 1191.1,1441.5 1194.5,1444.2 1197.8,1446.9 1201.1,1448.9 1204.4,1449.7 1207.7,1449.7 1211.0,1449.7 1214.3,1449.7 1217.7,1449.7 1221.0,1449.7 1224.3,1449.7 1227.6,1449.1 1230.8,1447.6 1234.1,1445.4 1237.4,1443.0 1240.6,1440.8 1243.9,1439.3 1247.2,1438.7 1250.3,1439.7 1253.4,1442.5 1256.5,1446.5 1259.7,1450.9 1262.8,1454.9 1265.9,1457.6 1269.0,1458.6 1272.7,1455.4 1276.3,1448.9 1280.0,1445.7 1285.9,1422.8 1288.9,1445.7 1293.4,1490.0 1294.6,1560.0 1295.2,1660.0" stroke="#ff0000" stroke-width="3.0"/>
<polyline points="895.9,1442.7 899.4,1442.2 902.9,1441.7 906.9,1449.7 910.9,1457.6 914.3,1456.0 917.8,1452.2 921.3,1448.3 924.8,1446.7 928.1,1447.2 931.4,1448.2 934.7,1448.7 938.0,1446.4 941.4,1442.0 944.7,1439.7 948.2,1441.9 951.6,1447.2 955.1,1452.5 958.6,1454.6 961.8,1452.0 965.1,1445.7 968.3,1439.4 971.5,1436.7 975.3,1440.4 979.0,1449.2 982.7,1458.0 986.4,1461.6 990.0,1459.9 993.6,1455.4 997.2,1449.9 1000.8,1445.4 1004.3,1443.7 1007.7,1445.2 1011.0,1448.2 1014.3,1449.7 1018.0,1450.4 1021.7,1452.2 1025.5,1453.9 1029.2,1454.6 1032.7,1452.3 1036.2,1446.7 1039.6,1441.1 1043.1,1438.7 1046.6,1441.6 1050.1,1448.7 1053.6,1455.7 1057.1,1458.6 1060.2,1457.4 1063.4,1453.9 1066.5,1449.2 1069.7,1444.5 1072.8,1441.0 1075.9,1439.7 1079.2,1441.0 1082.4,1444.2 1085.6,1447.4 1088.9,1448.7 1092.1,1448.6 1095.3,1448.3 1098.5,1448.0 1101.7,1447.8 1104.9,1447.7 1108.3,1447.5 1111.6,1446.9 1114.9,1446.2 1118.2,1445.4 1121.5,1444.9 1124.8,1444.7 1128.1,1444.8 1131.3,1445.2 1134.5,1445.5 1137.8,1445.7 1140.9,1446.0 1144.0,1446.8 1147.1,1448.0 1150.3,1449.3 1153.4,1450.5 1156.5,1451.4 1159.6,1451.7 1162.8,1451.4 1165.9,1450.8 1169.0,1449.8 1172.1,1448.7 1175.2,1447.5 1178.3,1446.6 1181.4,1445.9 1184.5,1445.7 1187.8,1446.0 1191.1,1446.7 1194.5,1447.7 1197.8,1448.7 1201.1,1449.4 1204.4,1449.7 1207.7,1449.5 1211.0,1449.1 1214.3,1448.4 1217.7,1447.6 1221.0,1446.8 1224.3,1445.9 1227.6,1445.3 1230.9,1444.8 1234.2,1444.7 1237.5,1444.9 1240.9,1445.4 1244.2,1446.2 1247.5,1446.9 1250.8,1447.5 1254.1,1447.7 1257.9,1448.3 1261.6,1449.7 1265.3,1451.1 1269.0,1451.7 1273.0,1449.7 1277.0,1445.7 1281.0,1443.7 1286.9,1433.8 1289.4,1449.7 1293.4,1490.0 1294.6,1560.0 1295.2,1660.0" stroke="#1c1cff" stroke-width="3.0"/>
<polyline points="895.9,1445.7 900.4,1445.7 904.9,1445.7 908.2,1446.9 911.5,1449.4 914.8,1450.7 918.8,1451.7 922.8,1453.6 926.8,1454.6 930.7,1453.2 934.7,1450.2 938.7,1448.7 941.9,1449.0 945.1,1449.7 948.3,1450.6 951.4,1451.4 954.6,1451.7 957.9,1451.3 961.2,1450.4 964.6,1449.2 967.9,1447.9 971.2,1447.0 974.5,1446.7 977.8,1448.4 981.1,1451.9 984.5,1453.6 987.6,1453.5 990.7,1452.9 993.8,1452.1 996.9,1451.2 1000.0,1450.2 1003.1,1449.4 1006.2,1448.9 1009.3,1448.7 1012.7,1448.8 1016.1,1449.0 1019.5,1449.3 1022.8,1449.6 1026.2,1449.7 1029.4,1449.2 1032.6,1448.0 1035.8,1446.4 1039.0,1445.2 1042.1,1444.7 1046.1,1446.2 1050.1,1449.2 1054.1,1450.7 1057.4,1450.3 1060.7,1449.4 1064.0,1448.2 1067.3,1446.9 1070.6,1446.0 1074.0,1445.7 1077.1,1445.8 1080.2,1446.0 1083.3,1446.3 1086.4,1446.7 1089.5,1447.2 1092.6,1447.6 1095.6,1448.1 1098.7,1448.4 1101.8,1448.6 1104.9,1448.7 1108.3,1449.2 1111.6,1450.2 1114.9,1450.7 1118.2,1450.6 1121.5,1450.4 1124.8,1450.2 1128.2,1449.8 1131.5,1449.5 1134.8,1449.2 1138.1,1448.9 1141.4,1448.7 1144.7,1448.7 1148.0,1448.8 1151.4,1449.2 1154.7,1449.7 1158.0,1450.2 1161.3,1450.5 1164.6,1450.7 1167.9,1450.6 1171.2,1450.4 1174.6,1450.2 1177.9,1449.8 1181.2,1449.5 1184.5,1449.2 1187.8,1448.9 1191.1,1448.7 1194.5,1448.7 1197.8,1448.7 1201.1,1448.9 1204.4,1449.2 1207.7,1449.4 1211.0,1449.6 1214.3,1449.7 1217.7,1449.6 1221.0,1449.6 1224.3,1449.4 1227.6,1449.3 1230.9,1449.1 1234.2,1448.9 1237.5,1448.8 1240.9,1448.7 1244.2,1448.7 1247.5,1448.8 1250.8,1449.2 1254.1,1449.7 1257.4,1450.2 1260.8,1450.5 1264.1,1450.7 1267.3,1450.2 1270.4,1448.9 1273.6,1447.4 1276.8,1446.2 1280.0,1445.7 1285.9,1439.7 1288.9,1446.7 1293.4,1490.0 1294.6,1560.0 1295.2,1660.0" stroke="#ff00ff" stroke-width="3.0" stroke-dasharray="7 5"/>
<polyline points="895.9,1439.7 900.9,1441.7 904.2,1448.2 907.5,1461.1 910.9,1467.6 914.3,1462.6 917.8,1450.7 921.3,1438.7 924.8,1433.8 928.8,1440.7 932.7,1454.6 936.7,1461.6 939.9,1459.3 943.2,1453.6 946.4,1448.0 949.6,1445.7 953.4,1445.8 957.1,1446.2 960.8,1446.5 964.6,1446.7 968.1,1447.9 971.7,1451.2 975.3,1455.2 978.9,1458.4 982.5,1459.6 985.9,1456.0 989.4,1447.2 992.9,1438.4 996.4,1434.8 999.9,1438.4 1003.3,1447.2 1006.8,1456.0 1010.3,1459.6 1013.8,1456.8 1017.3,1450.2 1020.8,1443.5 1024.2,1440.7 1027.5,1441.3 1030.9,1442.7 1034.2,1444.7 1037.5,1446.7 1040.8,1448.1 1044.1,1448.7 1048.1,1449.9 1052.1,1452.4 1056.1,1453.6 1060.0,1446.7 1064.0,1439.7 1067.3,1440.7 1070.6,1443.2 1074.0,1446.7 1077.3,1450.2 1080.6,1452.7 1083.9,1453.6 1087.5,1452.5 1091.1,1449.5 1094.6,1445.8 1098.2,1442.9 1101.8,1441.7 1098.0,1449.7 1102.0,1447.4 1105.9,1443.0 1109.9,1440.7 1113.0,1441.1 1116.1,1442.2 1119.2,1444.0 1122.3,1446.1 1125.4,1448.3 1128.5,1450.4 1131.6,1452.1 1134.7,1453.3 1137.8,1453.6 1141.2,1453.3 1144.7,1452.2 1148.2,1450.7 1151.7,1449.2 1155.2,1448.1 1158.6,1447.7 1161.8,1447.5 1165.0,1447.0 1168.2,1446.4 1171.4,1445.9 1174.6,1445.7 1177.7,1446.0 1180.8,1447.0 1183.9,1448.5 1187.0,1450.2 1190.1,1451.9 1193.2,1453.3 1196.3,1454.3 1199.4,1454.6 1203.0,1453.2 1206.6,1449.5 1210.2,1444.9 1213.7,1441.2 1217.3,1439.7 1220.4,1440.3 1223.5,1442.1 1226.7,1444.6 1229.8,1447.7 1232.9,1450.7 1236.0,1453.3 1239.1,1455.0 1242.2,1455.6 1245.6,1454.7 1249.0,1452.2 1252.3,1449.1 1255.7,1446.6 1259.1,1445.7 1262.4,1445.7 1265.7,1445.7 1269.0,1445.7 1272.4,1445.7 1275.7,1445.7 1279.0,1445.7 1284.0,1441.7 1288.9,1445.7 1293.4,1490.0 1294.6,1560.0 1295.2,1660.0" stroke="#12ff12" stroke-width="3.0"/>
<polyline points="895.9,1441.7 899.7,1444.9 903.4,1452.7 907.1,1460.4 910.9,1463.6 914.3,1459.8 917.8,1450.7 921.3,1441.5 924.8,1437.7 928.8,1443.2 932.7,1454.1 936.7,1459.6 939.9,1457.7 943.2,1453.2 946.4,1448.6 949.6,1446.7 953.4,1446.8 957.1,1447.2 960.8,1447.5 964.6,1447.7 968.1,1448.6 971.7,1451.1 975.3,1454.2 978.9,1456.7 982.5,1457.6 985.9,1454.7 989.4,1447.7 992.9,1440.7 996.4,1437.7 999.9,1440.7 1003.3,1447.7 1006.8,1454.7 1010.3,1457.6 1013.8,1455.4 1017.3,1450.2 1020.8,1444.9 1024.2,1442.7 1027.5,1443.1 1030.9,1444.2 1034.2,1445.7 1037.5,1447.2 1040.8,1448.3 1044.1,1448.7 1048.1,1449.4 1052.1,1450.9 1056.1,1451.7 1060.0,1446.7 1064.0,1441.7 1067.3,1442.4 1070.6,1444.2 1074.0,1446.7 1077.3,1449.2 1080.6,1451.0 1083.9,1451.7 1087.5,1450.9 1091.1,1448.9 1094.6,1446.5 1098.2,1444.5 1101.8,1443.7 1098.0,1448.7 1102.0,1447.2 1105.9,1444.2 1109.9,1442.7 1113.0,1443.0 1116.1,1443.8 1119.2,1444.9 1122.3,1446.4 1125.4,1448.0 1128.5,1449.4 1131.6,1450.6 1134.7,1451.4 1137.8,1451.7 1141.2,1451.4 1144.7,1450.8 1148.2,1449.9 1151.7,1449.1 1155.2,1448.4 1158.6,1448.2 1161.8,1448.0 1165.0,1447.7 1168.2,1447.2 1171.4,1446.8 1174.6,1446.7 1177.7,1446.9 1180.8,1447.6 1183.9,1448.5 1187.0,1449.7 1190.1,1450.8 1193.2,1451.8 1196.3,1452.4 1199.4,1452.7 1203.0,1451.6 1206.6,1448.9 1210.2,1445.5 1213.7,1442.8 1217.3,1441.7 1220.4,1442.2 1223.5,1443.5 1226.7,1445.4 1229.8,1447.7 1232.9,1450.0 1236.0,1451.9 1239.1,1453.2 1242.2,1453.6 1245.6,1453.0 1249.0,1451.2 1252.3,1449.1 1255.7,1447.4 1259.1,1446.7 1262.4,1446.7 1265.7,1446.6 1269.0,1446.4 1272.4,1446.3 1275.7,1446.2 1279.0,1446.2 1284.5,1442.7 1288.9,1446.2 1293.4,1490.0 1294.6,1560.0 1295.2,1660.0" stroke="#12ff12" stroke-width="3.0" stroke-dasharray="7 5"/>
</g></g>
<g filter="url(#bf)">
<rect x="1333.5" y="1113.8" width="155.8" height="262.0" fill="#fff"/>
<rect x="1333.5" y="1114.0" width="2.4" height="261.8" fill="#e6e6e6"/>
<rect x="1335.9" y="1114.0" width="2.5" height="261.8" fill="#aaaaaa"/>
<rect x="1478.1" y="1113.8" width="2.9" height="262.0" fill="#ebebeb"/>
<rect x="1481.0" y="1113.8" width="5.2" height="262.0" fill="#b2b2b2"/>
<rect x="1486.2" y="1113.8" width="2.6" height="262.0" fill="#dddddd"/>
<rect x="1335.9" y="1371.2" width="150.3" height="2.3" fill="#d0d0d0"/>
<rect x="1335.9" y="1373.5" width="150.3" height="2.3" fill="#b4b4b4"/>
<rect x="1333.5" y="1113.8" width="152.7" height="5.4" fill="#b6b6b6"/>
<rect x="893.8" y="1110.8" width="594.5" height="3.0" fill="#6e6e6e"/>
<rect x="1479.7" y="1507.9" width="5.5" height="2.7" fill="#8a8a8a" opacity="0.8"/>
<rect x="1479.7" y="1375.6" width="5.5" height="2.7" fill="#8a8a8a" opacity="0.8"/>
<rect x="1479.7" y="1243.3" width="5.5" height="2.7" fill="#8a8a8a" opacity="0.8"/>
</g>
<g filter="url(#b2)">
<line x1="1338.4" y1="1134.5" x2="1367.3" y2="1134.5" stroke="#6e6e6e" stroke-width="4.2" stroke-dasharray="5.8 5.8"/>
<text transform="translate(1370.28,1147.80) scale(0.8000,1)" font-size="29.09" fill="#1c1c1c" stroke="#1c1c1c" stroke-width="0.35">ECLOGKP</text>
<line x1="1338.4" y1="1171.5" x2="1367.3" y2="1171.5" stroke="#686868" stroke-width="4.2"/>
<text transform="translate(1370.28,1184.75) scale(0.8000,1)" font-size="29.09" fill="#1c1c1c" stroke="#1c1c1c" stroke-width="0.35">ECLOG</text>
<line x1="1338.4" y1="1208.4" x2="1367.3" y2="1208.4" stroke="#ff2a2a" stroke-width="4.2"/>
<text transform="translate(1370.28,1221.70) scale(0.8000,1)" font-size="29.09" fill="#1c1c1c" stroke="#1c1c1c" stroke-width="0.35">ECHKP</text>
<line x1="1338.4" y1="1245.3" x2="1367.3" y2="1245.3" stroke="#5a5aff" stroke-width="4.2"/>
<text transform="translate(1370.28,1258.65) scale(0.8000,1)" font-size="29.09" fill="#1c1c1c" stroke="#1c1c1c" stroke-width="0.35">KGP</text>
<line x1="1338.4" y1="1282.3" x2="1367.3" y2="1282.3" stroke="#ff40ff" stroke-width="4.2" stroke-dasharray="5.8 5.8"/>
<text transform="translate(1370.28,1295.60) scale(0.8000,1)" font-size="29.09" fill="#1c1c1c" stroke="#1c1c1c" stroke-width="0.35">ESSW</text>
<line x1="1338.4" y1="1319.2" x2="1367.3" y2="1319.2" stroke="#20ff20" stroke-width="4.2"/>
<text transform="translate(1370.28,1332.55) scale(0.8000,1)" font-size="29.09" fill="#1c1c1c" stroke="#1c1c1c" stroke-width="0.35">DSKP</text>
<line x1="1338.4" y1="1356.2" x2="1367.3" y2="1356.2" stroke="#40ff40" stroke-width="4.2" stroke-dasharray="5.8 5.8"/>
<text transform="translate(1370.28,1369.50) scale(0.8000,1)" font-size="29.09" fill="#1c1c1c" stroke="#1c1c1c" stroke-width="0.35">DS</text>
<text transform="translate(1004.57,1677.00) scale(0.8150,1)" font-size="27.93" fill="#484848">0.55</text>
<text transform="translate(1174.66,1677.00) scale(0.8150,1)" font-size="27.93" fill="#484848">0.6</text>
<text transform="translate(1332.07,1677.00) scale(0.8150,1)" font-size="27.93" fill="#484848">0.65</text>
<text transform="translate(844.70,1655.80) scale(0.8150,1)" font-size="27.93" fill="#484848">0.48</text>
<text transform="translate(857.27,1523.47) scale(0.8150,1)" font-size="27.93" fill="#484848">0.5</text>
<text transform="translate(844.87,1391.15) scale(0.8150,1)" font-size="27.93" fill="#484848">0.52</text>
<text transform="translate(844.36,1258.83) scale(0.8150,1)" font-size="27.93" fill="#484848">0.54</text>
<text transform="translate(844.70,1126.50) scale(0.8150,1)" font-size="27.93" fill="#484848">0.56</text>
<text transform="translate(1184.81,1711.00) scale(0.8150,1)" font-size="27.93" fill="#484848">x</text>
<text transform="translate(833.30,1431.60) rotate(-90) scale(0.9550,0.8200)" font-size="28.51" fill="#484848">Pressure</text>
</g>
<g filter="url(#bf)">
<rect x="1730.1" y="1633.2" width="2.7" height="8.0" fill="#8c8c8c" opacity="0.85"/>
<rect x="1730.1" y="1113.8" width="2.7" height="4.5" fill="#8c8c8c" opacity="0.75"/>
<rect x="1889.7" y="1633.2" width="2.7" height="8.0" fill="#8c8c8c" opacity="0.85"/>
<rect x="1889.7" y="1113.8" width="2.7" height="4.5" fill="#8c8c8c" opacity="0.75"/>
<rect x="2049.3" y="1633.2" width="2.7" height="8.0" fill="#8c8c8c" opacity="0.85"/>
<rect x="2049.3" y="1113.8" width="2.7" height="4.5" fill="#8c8c8c" opacity="0.75"/>
<rect x="2208.9" y="1633.2" width="2.7" height="8.0" fill="#8c8c8c" opacity="0.85"/>
<rect x="2208.9" y="1113.8" width="2.7" height="4.5" fill="#8c8c8c" opacity="0.75"/>
<rect x="1690.0" y="1110.8" width="2.7" height="531.0" fill="#888888"/>
<rect x="1691.5" y="1564.6" width="6.0" height="2.7" fill="#8c8c8c" opacity="0.7"/>
<rect x="1691.5" y="1489.0" width="6.0" height="2.7" fill="#8c8c8c" opacity="0.7"/>
<rect x="1691.5" y="1413.4" width="6.0" height="2.7" fill="#8c8c8c" opacity="0.7"/>
<rect x="1691.5" y="1337.8" width="6.0" height="2.7" fill="#8c8c8c" opacity="0.7"/>
<rect x="1691.5" y="1262.2" width="6.0" height="2.7" fill="#8c8c8c" opacity="0.7"/>
<rect x="1691.5" y="1186.6" width="6.0" height="2.7" fill="#8c8c8c" opacity="0.7"/>
<rect x="2280.0" y="1113.8" width="2.7" height="528.0" fill="#c0c0c0"/>
<rect x="2282.7" y="1113.8" width="2.3" height="528.0" fill="#e0e0e0"/>
<rect x="1690.0" y="1639.2" width="592.7" height="2.6" fill="#dddddd"/>
<rect x="1690.0" y="1641.8" width="592.7" height="2.6" fill="#b6b6b6"/>
<rect x="1690.0" y="1644.4" width="592.7" height="2.2" fill="#e8e8e8"/>
</g>
<clipPath id="clip5"><rect x="1690" y="1112.8" width="590" height="533.8"/></clipPath>
<g filter="url(#b2)"><g clip-path="url(#clip5)" fill="none" stroke-linejoin="round" stroke-linecap="butt">
<polyline points="1705.4,1108.0 1730.8,1210.0 1756.3,1309.6 1780.8,1390.0 1795.8,1441.0 1809.8,1487.7 1820.5,1500.8 1826.5,1498.4 1837.2,1435.3 1846.7,1393.6 1853.9,1387.6 1870.5,1396.0 1881.3,1398.4 1893.2,1391.2 1911.0,1391.2 2000.0,1391.0 2108.0,1389.0 2114.0,1375.0 2119.0,1343.0 2122.5,1241.8 2124.0,1108.0" stroke="#1a1a1a" stroke-width="2.9" stroke-dasharray="3 4"/>
<polyline points="1705.4,1108.0 1730.8,1210.0 1756.3,1309.6 1780.8,1390.0 1795.8,1441.0 1809.8,1488.9 1814.5,1505.6 1821.7,1513.9 1828.8,1509.1 1836.0,1471.0 1845.5,1411.5 1851.5,1386.5 1861.0,1387.6 1871.7,1397.2 1887.2,1388.8 1899.1,1387.6 2000.0,1386.8 2108.0,1386.5 2113.0,1379.0 2118.5,1343.0 2122.0,1241.8 2124.0,1108.0" stroke="#1a1a1a" stroke-width="2.9"/>
<polyline points="1705.0,1108.0 1730.4,1210.0 1755.9,1309.6 1780.4,1390.0 1795.4,1441.0 1809.8,1488.9 1814.5,1506.8 1820.5,1518.7 1830.0,1512.7 1837.2,1471.0 1846.7,1411.5 1851.5,1387.6 1861.0,1372.2 1870.5,1385.3 1881.3,1386.5 1899.1,1387.6 2000.0,1386.5 2108.0,1386.0 2113.0,1378.0 2118.5,1343.0 2122.0,1241.8 2124.0,1108.0" stroke="#ff0000" stroke-width="2.9"/>
<polyline points="1705.8,1108.0 1731.2,1210.0 1756.7,1309.6 1781.2,1390.0 1796.2,1441.0 1803.8,1459.1 1811.0,1465.1 1819.3,1453.2 1830.0,1406.7 1839.6,1372.2 1846.7,1374.5 1853.9,1385.3 1862.2,1392.4 1870.5,1388.8 1880.1,1376.9 1899.1,1385.0 1922.9,1385.5 2000.0,1385.8 2085.0,1385.5 2098.8,1381.5 2109.9,1406.0 2114.0,1350.0 2118.0,1300.0 2121.0,1240.0 2123.0,1108.0" stroke="#1c1cff" stroke-width="2.9"/>
<polyline points="1705.1,1108.0 1730.5,1210.0 1756.0,1309.6 1780.5,1390.0 1795.5,1441.0 1807.4,1473.4 1813.4,1487.7 1822.9,1468.6 1830.0,1432.9 1843.1,1374.5 1853.9,1386.5 1870.5,1392.4 1887.2,1387.6 1911.0,1387.6 2000.0,1387.0 2100.0,1386.0 2107.0,1375.5 2119.0,1381.6 2120.0,1343.0 2122.5,1241.8 2124.3,1108.0" stroke="#ff00ff" stroke-width="2.9" stroke-dasharray="7 5"/>
<polyline points="1704.6,1108.0 1730.0,1210.0 1755.5,1309.6 1780.0,1390.0 1795.0,1441.0 1809.8,1487.7 1815.7,1494.9 1820.5,1493.7 1827.6,1459.1 1837.2,1411.5 1850.3,1369.8 1861.0,1387.6 1870.5,1400.8 1882.4,1385.3 1889.6,1375.7 1905.1,1385.3 1922.9,1386.5 2000.0,1385.5 2102.0,1385.0 2108.9,1394.0 2112.0,1380.0 2117.5,1343.0 2121.5,1241.8 2123.5,1108.0" stroke="#12ff12" stroke-width="2.9"/>
<polyline points="1704.8,1108.0 1730.2,1210.0 1755.7,1309.6 1780.2,1390.0 1795.2,1441.0 1809.8,1487.7 1818.1,1493.7 1827.6,1465.1 1840.8,1417.4 1850.3,1371.0 1861.0,1387.6 1870.5,1399.6 1887.2,1385.3 1905.1,1387.1 2000.0,1387.5 2108.0,1388.0 2113.0,1378.0 2118.0,1343.0 2122.0,1241.8 2124.0,1108.0" stroke="#12ff12" stroke-width="2.9" stroke-dasharray="7 5"/>
</g></g>
<g filter="url(#bf)">
<rect x="2128.6" y="1113.8" width="156.9" height="262.0" fill="#fff"/>
<rect x="2128.6" y="1114.0" width="2.4" height="261.8" fill="#e6e6e6"/>
<rect x="2131.0" y="1114.0" width="2.5" height="261.8" fill="#aaaaaa"/>
<rect x="2274.3" y="1113.8" width="3.0" height="262.0" fill="#e4e4e4"/>
<rect x="2277.3" y="1113.8" width="5.3" height="262.0" fill="#a8a8a8"/>
<rect x="2282.6" y="1113.8" width="2.4" height="262.0" fill="#eeeeee"/>
<rect x="2131.0" y="1371.2" width="151.6" height="2.3" fill="#d0d0d0"/>
<rect x="2131.0" y="1373.5" width="151.6" height="2.3" fill="#b4b4b4"/>
<rect x="2128.6" y="1113.8" width="154.0" height="5.4" fill="#b6b6b6"/>
<rect x="1690.0" y="1110.8" width="594.5" height="3.0" fill="#6e6e6e"/>
<rect x="2276.6" y="1564.6" width="5.5" height="2.7" fill="#8a8a8a" opacity="0.8"/>
<rect x="2276.6" y="1489.0" width="5.5" height="2.7" fill="#8a8a8a" opacity="0.8"/>
<rect x="2276.6" y="1413.4" width="5.5" height="2.7" fill="#8a8a8a" opacity="0.8"/>
<rect x="2276.6" y="1337.8" width="5.5" height="2.7" fill="#8a8a8a" opacity="0.8"/>
<rect x="2276.6" y="1262.2" width="5.5" height="2.7" fill="#8a8a8a" opacity="0.8"/>
<rect x="2276.6" y="1186.6" width="5.5" height="2.7" fill="#8a8a8a" opacity="0.8"/>
</g>
<g filter="url(#b2)">
<line x1="2133.5" y1="1134.5" x2="2162.4" y2="1134.5" stroke="#6e6e6e" stroke-width="4.2" stroke-dasharray="5.8 5.8"/>
<text transform="translate(2165.38,1147.80) scale(0.8000,1)" font-size="29.09" fill="#1c1c1c" stroke="#1c1c1c" stroke-width="0.35">ECLOGKP</text>
<line x1="2133.5" y1="1171.5" x2="2162.4" y2="1171.5" stroke="#686868" stroke-width="4.2"/>
<text transform="translate(2165.38,1184.75) scale(0.8000,1)" font-size="29.09" fill="#1c1c1c" stroke="#1c1c1c" stroke-width="0.35">ECLOG</text>
<line x1="2133.5" y1="1208.4" x2="2162.4" y2="1208.4" stroke="#ff2a2a" stroke-width="4.2"/>
<text transform="translate(2165.38,1221.70) scale(0.8000,1)" font-size="29.09" fill="#1c1c1c" stroke="#1c1c1c" stroke-width="0.35">ECHKP</text>
<line x1="2133.5" y1="1245.3" x2="2162.4" y2="1245.3" stroke="#5a5aff" stroke-width="4.2"/>
<text transform="translate(2165.38,1258.65) scale(0.8000,1)" font-size="29.09" fill="#1c1c1c" stroke="#1c1c1c" stroke-width="0.35">KGP</text>
<line x1="2133.5" y1="1282.3" x2="2162.4" y2="1282.3" stroke="#ff40ff" stroke-width="4.2" stroke-dasharray="5.8 5.8"/>
<text transform="translate(2165.38,1295.60) scale(0.8000,1)" font-size="29.09" fill="#1c1c1c" stroke="#1c1c1c" stroke-width="0.35">ESSW</text>
<line x1="2133.5" y1="1319.2" x2="2162.4" y2="1319.2" stroke="#20ff20" stroke-width="4.2"/>
<text transform="translate(2165.38,1332.55) scale(0.8000,1)" font-size="29.09" fill="#1c1c1c" stroke="#1c1c1c" stroke-width="0.35">DSKP</text>
<line x1="2133.5" y1="1356.2" x2="2162.4" y2="1356.2" stroke="#40ff40" stroke-width="4.2" stroke-dasharray="5.8 5.8"/>
<text transform="translate(2165.38,1369.50) scale(0.8000,1)" font-size="29.09" fill="#1c1c1c" stroke="#1c1c1c" stroke-width="0.35">DS</text>
<text transform="translate(1709.38,1677.00) scale(0.8150,1)" font-size="27.93" fill="#484848">0.42</text>
<text transform="translate(1868.75,1677.00) scale(0.8150,1)" font-size="27.93" fill="#484848">0.44</text>
<text transform="translate(2028.54,1677.00) scale(0.8150,1)" font-size="27.93" fill="#484848">0.46</text>
<text transform="translate(2188.16,1677.00) scale(0.8150,1)" font-size="27.93" fill="#484848">0.48</text>
<text transform="translate(1640.64,1655.80) scale(0.8150,1)" font-size="27.93" fill="#484848">0.45</text>
<text transform="translate(1640.70,1580.19) scale(0.8150,1)" font-size="27.93" fill="#484848">0.46</text>
<text transform="translate(1640.87,1504.57) scale(0.8150,1)" font-size="27.93" fill="#484848">0.47</text>
<text transform="translate(1640.70,1428.96) scale(0.8150,1)" font-size="27.93" fill="#484848">0.48</text>
<text transform="translate(1640.75,1353.34) scale(0.8150,1)" font-size="27.93" fill="#484848">0.49</text>
<text transform="translate(1653.27,1277.73) scale(0.8150,1)" font-size="27.93" fill="#484848">0.5</text>
<text transform="translate(1640.81,1202.11) scale(0.8150,1)" font-size="27.93" fill="#484848">0.51</text>
<text transform="translate(1640.87,1126.50) scale(0.8150,1)" font-size="27.93" fill="#484848">0.52</text>
<text transform="translate(1980.81,1711.00) scale(0.8150,1)" font-size="27.93" fill="#484848">x</text>
<text transform="translate(1629.30,1431.60) rotate(-90) scale(0.9550,0.8200)" font-size="28.51" fill="#484848">Pressure</text>
</g>
<g filter="url(#b0)">
<text transform="translate(0,313.77) scale(0.8130,1)" x="753.1 802.7 840.7 882.2 919.2 940.8 964.3" y="0" font-size="66.83" font-weight="bold" fill="#000" stroke="#000" stroke-width="1.65" stroke-linejoin="round">Density</text>
<text transform="translate(0,313.70) scale(0.8257,1)" x="1771.3 1819.0 1856.3 1897.6 1934.7 1955.8 1978.5 2015.9 2033.5 2056.0 2095.7 2134.7 2175.1 2237.0" y="0" font-size="66.90" font-weight="bold" fill="#000" stroke="#000" stroke-width="1.60" stroke-linejoin="round">Density (Zoom)</text>
<text transform="translate(0,1030.77) scale(0.7725,1)" x="374.2 415.7 441.6 477.7 513.9 549.4 588.0 614.3" y="0" font-size="62.18" font-weight="bold" fill="#000" stroke="#000" stroke-width="1.85" stroke-linejoin="round">Pressure</text>
<text transform="translate(0,1030.91) scale(0.7875,1)" x="1780.0 1821.5 1846.3 1881.7 1918.0 1953.2 1990.1 2016.0 2050.6 2072.4 2094.3 2130.0 2166.8 2206.4 2263.6" y="0" font-size="62.27" font-weight="bold" fill="#000" stroke="#000" stroke-width="1.79" stroke-linejoin="round">Pressure (Zoom)</text>
</g>
</svg>
</body></html>
